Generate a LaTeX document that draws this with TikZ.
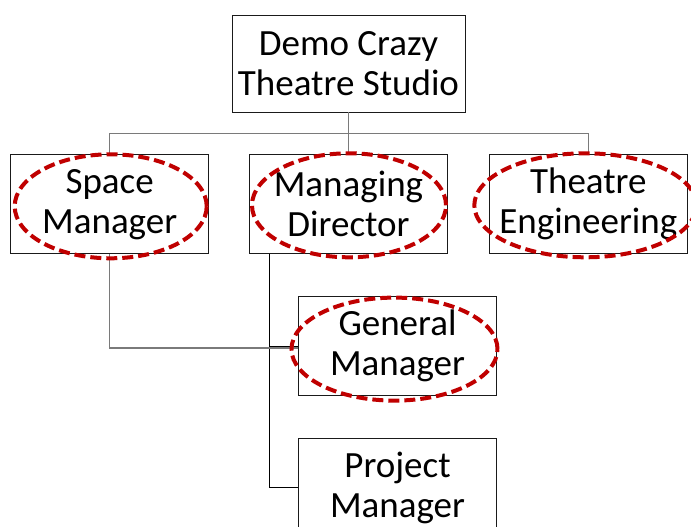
\documentclass[tikz,border=0pt]{standalone}
\usepackage{fontspec}
\setmainfont{Carlito}
\usetikzlibrary{positioning}
\definecolor{OrgRed}{HTML}{C00000}
\definecolor{OrgGrey}{HTML}{7A7A7A}
\definecolor{OrgInk}{HTML}{1A1A1A}

\begin{document}
\begin{tikzpicture}[
  font=\fontsize{37}{40}\selectfont,
  node distance=42pt,
  unit/.style={rectangle, draw=OrgInk, line width=0.8pt, fill=white, text=black,
               align=center, inner sep=0pt, minimum width=198pt, minimum height=99pt},
  top/.style={unit, minimum width=233pt, minimum height=97pt},
  bus/.style={draw=OrgGrey, line width=1.5pt},
  link/.style={draw=black, line width=0.9pt},
  ring/.style={draw=OrgRed, line width=4pt, dash pattern=on 11pt off 5pt},
]

% --- frame ---
\useasboundingbox (0,0) rectangle (691pt,-527pt);

% --- head ---
\node[top] (studio) at (348.5pt,-63.5pt) {Demo Crazy\\Theatre Studio};

% --- second row ---
\node[unit, below=42pt of studio] (md) {Managing\\Director};
\node[unit, left=40pt of md] (sm) {Space\\Manager};
\node[unit, right=41pt of md] (te) {Theatre\\Engineering};

% --- third row ---
\node[unit, below right=42pt and 49pt of md.south west] (gm) {General\\Manager};
\node[unit, below=42pt of gm] (pm) {Project\\Manager};

% --- connectors ---
\coordinate[below=21pt of studio.south] (hub);
\coordinate (mdfoot) at ([xshift=20pt]md.south west);
\draw[link] (mdfoot) |- (gm.west);
\draw[link] (mdfoot) |- (pm.west);
\draw[bus] (studio.south) -- (md.north);
\draw[bus] (sm.north) |- (hub) -| (te.north);
\draw[bus] (sm.south) |- ([yshift=-2pt]gm.west);

% --- dashed rings ---
\draw[ring] ([shift={(1pt,-2pt)}]sm.center) ellipse [x radius=96pt, y radius=52pt];
\draw[ring] ([shift={(0.5pt,-1pt)}]md.center) ellipse [x radius=97pt, y radius=52pt];
\draw[ring] ([shift={(-3pt,-1pt)}]te.center) ellipse [x radius=111pt, y radius=52pt];
\draw[ring] ([shift={(-3pt,-3pt)}]gm.center) ellipse [x radius=103pt, y radius=51.5pt];

\end{tikzpicture}
\end{document}
